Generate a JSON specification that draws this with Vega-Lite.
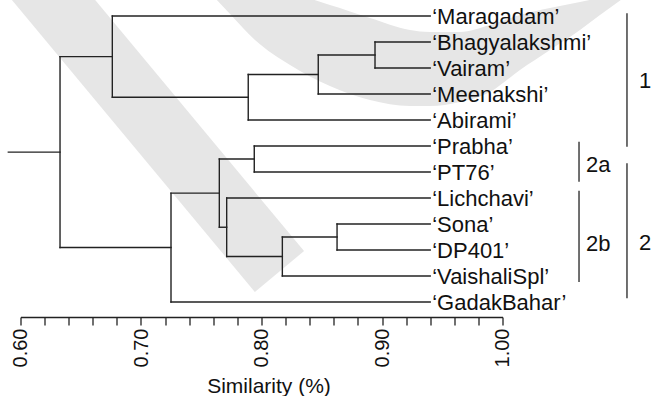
{
  "$schema": "https://vega.github.io/schema/vega-lite/v6.json",
  "width": 482,
  "height": 317,
  "autosize": {"type": "none"},
  "padding": {"left": 20.5, "top": 0, "right": 151.5, "bottom": 79},
  "background": "white",
  "config": {"view": {"stroke": null}, "font": "Liberation Sans"},
  "datasets": {
    "band": [
      {"ord": 1, "x": 0.5998, "y": -1.154},
      {"ord": 2, "x": 0.8149, "y": 10.827}
    ],
    "crescent": [
      {"x": 0.7606, "y": 0.269, "y2": 0.192},
      {"x": 0.7739, "y": 0.923, "y2": 0.192},
      {"x": 0.7946, "y": 1.923, "y2": 0.192},
      {"x": 0.8237, "y": 2.885, "y2": 0.192},
      {"x": 0.8568, "y": 3.692, "y2": 0.577},
      {"x": 0.89, "y": 4.231, "y2": 1.077},
      {"x": 0.9232, "y": 4.462, "y2": 1.538},
      {"x": 0.9398, "y": 4.462, "y2": 1.615},
      {"x": 0.9647, "y": 4.308, "y2": 1.615},
      {"x": 0.9896, "y": 3.923, "y2": 1.346},
      {"x": 1.0145, "y": 3.077, "y2": 0.962},
      {"x": 1.0394, "y": 2.308, "y2": 0.692},
      {"x": 1.0643, "y": 1.538, "y2": 0.462},
      {"x": 1.0809, "y": 0.962, "y2": 0.308},
      {"x": 1.1017, "y": 0.269, "y2": 0.192}
    ],
    "segments": [
      {"x": 0.5899, "x2": 0.6328, "y": 6.234, "y2": 6.234},
      {"x": 0.6328, "x2": 0.6328, "y": 2.5625, "y2": 9.906},
      {"x": 0.6328, "x2": 0.6762, "y": 2.5625, "y2": 2.5625},
      {"x": 0.6328, "x2": 0.7249, "y": 9.906, "y2": 9.906},
      {"x": 0.6762, "x2": 0.6762, "y": 1, "y2": 4.125},
      {"x": 0.6762, "x2": 0.94, "y": 1, "y2": 1},
      {"x": 0.6762, "x2": 0.789, "y": 4.125, "y2": 4.125},
      {"x": 0.789, "x2": 0.789, "y": 3.25, "y2": 5},
      {"x": 0.789, "x2": 0.8471, "y": 3.25, "y2": 3.25},
      {"x": 0.789, "x2": 0.94, "y": 5, "y2": 5},
      {"x": 0.8471, "x2": 0.8471, "y": 2.5, "y2": 4},
      {"x": 0.8471, "x2": 0.8942, "y": 2.5, "y2": 2.5},
      {"x": 0.8471, "x2": 0.94, "y": 4, "y2": 4},
      {"x": 0.8942, "x2": 0.8942, "y": 2, "y2": 3},
      {"x": 0.8942, "x2": 0.94, "y": 2, "y2": 2},
      {"x": 0.8942, "x2": 0.94, "y": 3, "y2": 3},
      {"x": 0.7249, "x2": 0.7249, "y": 7.8125, "y2": 12},
      {"x": 0.7249, "x2": 0.765, "y": 7.8125, "y2": 7.8125},
      {"x": 0.7249, "x2": 0.94, "y": 12, "y2": 12},
      {"x": 0.765, "x2": 0.765, "y": 6.5, "y2": 9.125},
      {"x": 0.765, "x2": 0.794, "y": 6.5, "y2": 6.5},
      {"x": 0.765, "x2": 0.7711, "y": 9.125, "y2": 9.125},
      {"x": 0.794, "x2": 0.794, "y": 6, "y2": 7},
      {"x": 0.794, "x2": 0.94, "y": 6, "y2": 6},
      {"x": 0.794, "x2": 0.94, "y": 7, "y2": 7},
      {"x": 0.7711, "x2": 0.7711, "y": 8, "y2": 10.25},
      {"x": 0.7711, "x2": 0.94, "y": 8, "y2": 8},
      {"x": 0.7711, "x2": 0.8173, "y": 10.25, "y2": 10.25},
      {"x": 0.8173, "x2": 0.8173, "y": 9.5, "y2": 11},
      {"x": 0.8173, "x2": 0.8627, "y": 9.5, "y2": 9.5},
      {"x": 0.8173, "x2": 0.94, "y": 11, "y2": 11},
      {"x": 0.8627, "x2": 0.8627, "y": 9, "y2": 10},
      {"x": 0.8627, "x2": 0.94, "y": 9, "y2": 9},
      {"x": 0.8627, "x2": 0.94, "y": 10, "y2": 10}
    ],
    "leaves": [
      {"label": "‘Maragadam’", "x": 0.94, "y": 1},
      {"label": "‘Bhagyalakshmi’", "x": 0.94, "y": 2},
      {"label": "‘Vairam’", "x": 0.94, "y": 3},
      {"label": "‘Meenakshi’", "x": 0.94, "y": 4},
      {"label": "‘Abirami’", "x": 0.94, "y": 5},
      {"label": "‘Prabha’", "x": 0.94, "y": 6},
      {"label": "‘PT76’", "x": 0.94, "y": 7},
      {"label": "‘Lichchavi’", "x": 0.94, "y": 8},
      {"label": "‘Sona’", "x": 0.94, "y": 9},
      {"label": "‘DP401’", "x": 0.94, "y": 10},
      {"label": "‘VaishaliSpl’", "x": 0.94, "y": 11},
      {"label": "‘GadakBahar’", "x": 0.94, "y": 12}
    ],
    "brackets": [
      {"x": 1.1033, "y": 0.896, "y2": 6.027},
      {"x": 1.1033, "y": 6.665, "y2": 11.858},
      {"x": 1.0635, "y": 5.835, "y2": 7.373},
      {"x": 1.0635, "y": 7.719, "y2": 11.231}
    ],
    "groups": [
      {"label": "1", "x": 1.1183, "y": 3.4615, "anchor": "center"},
      {"label": "2", "x": 1.1183, "y": 9.692, "anchor": "center"},
      {"label": "2a", "x": 1.0693, "y": 6.692, "anchor": "left"},
      {"label": "2b", "x": 1.0693, "y": 9.75, "anchor": "left"}
    ]
  },
  "encoding": {
    "x": {
      "field": "x", "type": "quantitative",
      "scale": {"domain": [0.6, 1.0], "nice": false, "zero": false},
      "axis": {
        "orient": "bottom",
        "values": [0.6, 0.62, 0.64, 0.66, 0.68, 0.7, 0.72, 0.74, 0.76, 0.78, 0.8, 0.82, 0.84, 0.86, 0.88, 0.9, 0.92, 0.94, 0.96, 0.98, 1.0],
        "labelExpr": "abs(datum.value*10 - round(datum.value*10)) < 0.001 ? format(datum.value, '.2f') : ''",
        "labelAngle": -90,
        "labelAlign": "right",
        "labelBaseline": "middle",
        "labelFontSize": 20,
        "labelFont": "Liberation Sans",
        "labelColor": "#111111",
        "labelPadding": 3,
        "labelOverlap": false,
        "labelFlush": false,
        "tickSize": 8,
        "tickColor": "#222222",
        "tickWidth": 1.3,
        "domainColor": "#222222",
        "domainWidth": 1.3,
        "grid": false,
        "title": "Similarity (%)",
        "titleFont": "Liberation Sans",
        "titleFontSize": 21,
        "titleFontWeight": "normal",
        "titleColor": "#111111",
        "titleBaseline": "alphabetic",
        "titleAlign": "center",
        "titleX": 248,
        "titleY": 75,
        "encode": {
          "ticks": {"update": {"y2": {"signal": "abs(datum.value*10 - round(datum.value*10)) < 0.001 ? 8 : 5"}}}
        }
      }
    },
    "y": {"field": "y", "type": "quantitative", "scale": {"domain": [0.385, 12.577], "reverse": true, "nice": false, "zero": false}, "axis": null}
  },
  "layer": [
    {
      "data": {"name": "band"},
      "mark": {"type": "line", "color": "#e6e6e6", "strokeWidth": 64, "strokeCap": "butt"},
      "encoding": {
        "order": {"field": "ord", "type": "quantitative"}
      }
    },
    {
      "data": {"name": "crescent"},
      "mark": {"type": "area", "color": "#e6e6e6", "opacity": 1, "interpolate": "monotone", "orient": "vertical"},
      "encoding": {
        "y2": {"field": "y2"}
      }
    },
    {
      "data": {"name": "segments"},
      "mark": {"type": "rule", "color": "#222222", "strokeWidth": 1.4, "strokeCap": "square"},
      "encoding": {
        "x2": {"field": "x2"},
        "y2": {"field": "y2"}
      }
    },
    {
      "data": {"name": "leaves"},
      "mark": {"type": "text", "align": "left", "baseline": "alphabetic", "dx": 2, "dy": 7.8, "fontSize": 22, "font": "Liberation Sans", "color": "#111111"},
      "encoding": {
        "text": {"field": "label"}
      }
    },
    {
      "data": {"name": "brackets"},
      "mark": {"type": "rule", "color": "#333333", "strokeWidth": 1.4},
      "encoding": {
        "y2": {"field": "y2"}
      }
    },
    {
      "data": {"name": "groups"},
      "transform": [{"filter": "datum.anchor == 'center'"}],
      "mark": {"type": "text", "align": "center", "baseline": "alphabetic", "dy": 7.8, "fontSize": 22, "font": "Liberation Sans", "color": "#111111"},
      "encoding": {
        "text": {"field": "label"}
      }
    },
    {
      "data": {"name": "groups"},
      "transform": [{"filter": "datum.anchor == 'left'"}],
      "mark": {"type": "text", "align": "left", "baseline": "alphabetic", "dy": 7.8, "fontSize": 22, "font": "Liberation Sans", "color": "#111111"},
      "encoding": {
        "text": {"field": "label"}
      }
    }
  ]
}
